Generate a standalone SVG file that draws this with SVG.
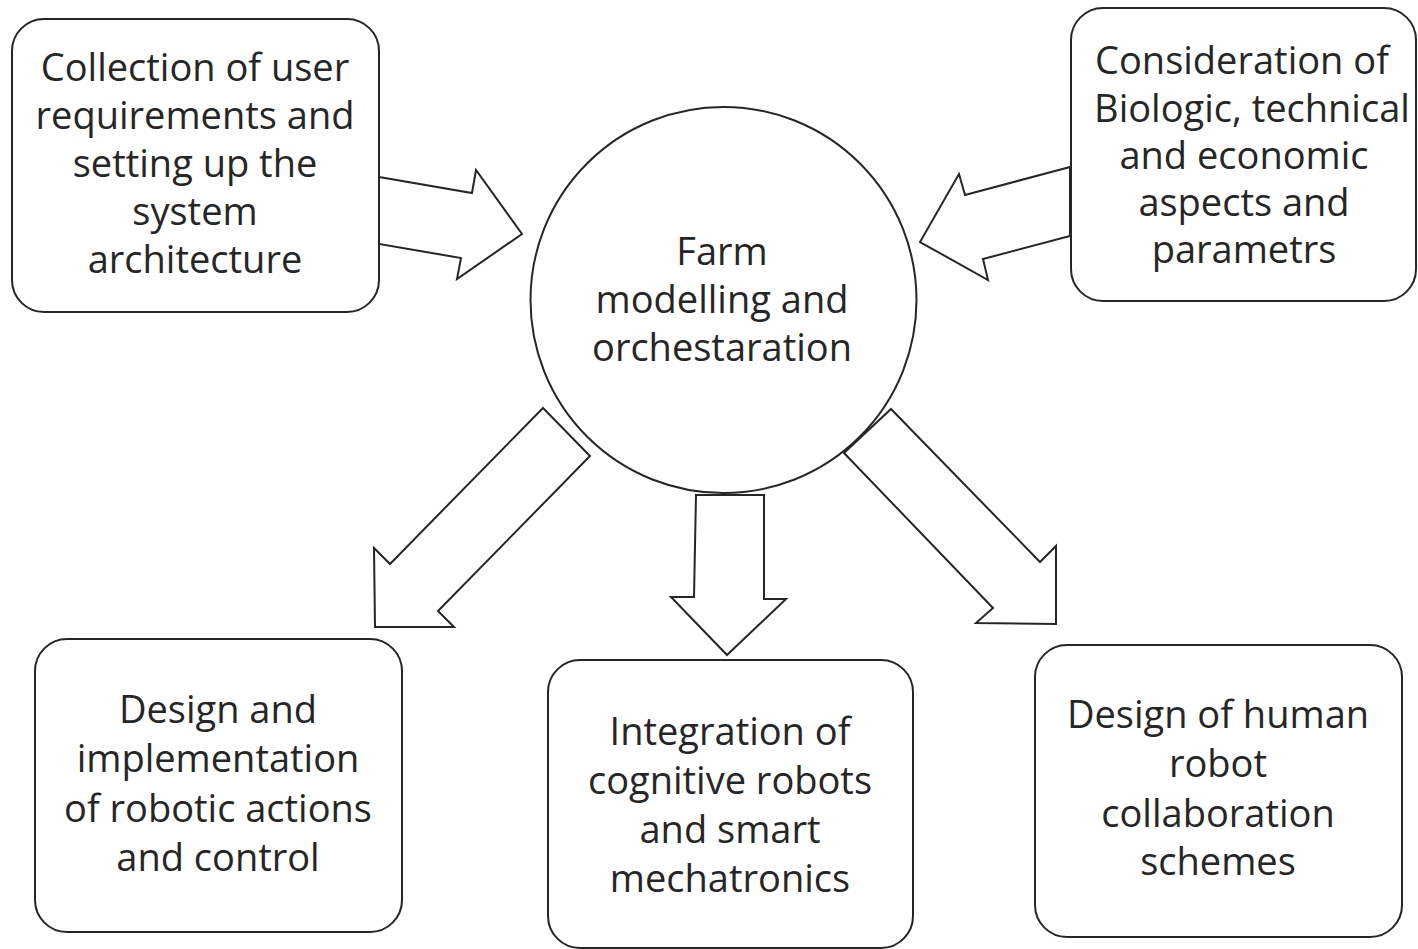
<svg xmlns="http://www.w3.org/2000/svg" width="1418" height="949" viewBox="0 0 1418 949">
<style>
.box{fill:#fff;stroke:#262626;stroke-width:2}
.arr{fill:#fff;stroke:#262626;stroke-width:2;stroke-linejoin:miter}
.t{font-family:"Open Sans","Noto Sans",sans-serif;font-size:38px;fill:#262626;text-anchor:middle}
</style>
<rect width="1418" height="949" fill="#fff"/>
<g id="connectors">
<polygon class="arr" points="379,177 472,193 476,170 522,234 457,279 461,258 379,244"/>
<polygon class="arr" points="1070,167 965,195 959,174 920,242 988,280 983,259 1070,236"/>
<polygon class="arr" points="543,408 590,456 438,611 454,627 375,627 374,548 390,564"/>
<polygon class="arr" points="696,495 764,495 764,599 786,599 727,655 671,597 694,597"/>
<polygon class="arr" points="891,409 1040,562 1056,546 1056,624 976,623 993,608 844,453"/>
</g>
<g id="center">
<circle cx="723.5" cy="300" r="193" fill="none" stroke="#262626" stroke-width="2"/>
<text class="t" x="722" y="265">Farm</text>
<text class="t" x="722" y="313">modelling and</text>
<text class="t" x="722" y="361">orchestaration</text>
</g>
<g id="n1">
<rect class="box" x="12" y="19" width="367" height="293" rx="32"/>
<text class="t" x="195" y="81">Collection of user</text>
<text class="t" x="195" y="129">requirements and</text>
<text class="t" x="195" y="177">setting up the</text>
<text class="t" x="195" y="225">system</text>
<text class="t" x="195" y="273">architecture</text>
</g>
<g id="n2">
<rect class="box" x="1071" y="8" width="345" height="293" rx="32"/>
<text class="t" x="1242" y="74">Consideration of</text>
<text class="t" x="1252" y="122">Biologic, technical</text>
<text class="t" x="1244" y="169">and economic</text>
<text class="t" x="1244" y="216">aspects and</text>
<text class="t" x="1244" y="263">parametrs</text>
</g>
<g id="n3">
<rect class="box" x="35" y="639" width="367" height="293" rx="32"/>
<text class="t" x="218" y="723">Design and</text>
<text class="t" x="218" y="772">implementation</text>
<text class="t" x="218" y="822">of robotic actions</text>
<text class="t" x="218" y="871">and control</text>
</g>
<g id="n4">
<rect class="box" x="548" y="660" width="365" height="288" rx="32"/>
<text class="t" x="730" y="745">Integration of</text>
<text class="t" x="730" y="794">cognitive robots</text>
<text class="t" x="730" y="843">and smart</text>
<text class="t" x="730" y="892">mechatronics</text>
</g>
<g id="n5">
<rect class="box" x="1035" y="645" width="367" height="292" rx="32"/>
<text class="t" x="1218" y="728">Design of human</text>
<text class="t" x="1218" y="777">robot</text>
<text class="t" x="1218" y="827">collaboration</text>
<text class="t" x="1218" y="875">schemes</text>
</g>
</svg>
